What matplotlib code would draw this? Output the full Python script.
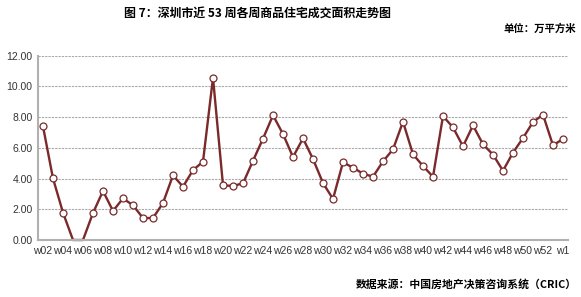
import matplotlib.pyplot as plt
import numpy as np

plt.rcParams['font.family'] = ['Liberation Sans', 'Noto Sans CJK SC', 'DejaVu Sans']

# weekly values, w02 .. w53 then w1 of the next year
weeks = ['w%02d' % i for i in range(2, 54)] + ['w1']
area = [7.40, 4.01, 1.78, 0.00, 0.00, 1.76, 3.19, 1.89, 2.71, 2.26,
        1.43, 1.43, 2.41, 4.21, 3.47, 4.55, 5.10, 10.57, 3.56, 3.52,
        3.69, 5.16, 6.60, 8.12, 6.90, 5.40, 6.62, 5.27, 3.71, 2.67,
        5.06, 4.71, 4.32, 4.12, 5.12, 5.90, 7.70, 5.58, 4.82, 4.12,
        8.07, 7.33, 6.10, 7.46, 6.23, 5.56, 4.51, 5.69, 6.64, 7.68,
        8.16, 6.16, 6.58]
yticks = [0, 2, 4, 6, 8, 10, 12]

fig = plt.figure(figsize=(5.81, 2.97), dpi=100)
ax = fig.add_axes([38 / 581, 1 - 240 / 297, 530 / 581, 184.3 / 297])

x = np.arange(len(weeks))
# markers sitting on the zero line are hidden behind the axis in the original
shown = [i for i, v in enumerate(area) if v > 0]
ax.plot(x, area, '-o', color='#7a2a2a', linewidth=1.7, markersize=5,
        markerfacecolor='white', markeredgecolor='#7a2a2a', markeredgewidth=0.9,
        markevery=shown, clip_on=False, zorder=3)

ax.set_xlim(-0.5, len(weeks) - 0.5)
ax.set_ylim(0, 12)
ax.set_yticks(yticks)
ax.set_yticklabels(['%.2f' % v for v in yticks], fontsize=7.5)
ax.set_xticks(x[::2])
ax.set_xticklabels(weeks[::2], fontsize=7.5)
ax.tick_params(axis='both', length=0, pad=4, colors='#333333')

ax.grid(axis='y', linestyle=(0, (2, 1)), color='#a8a8a8', linewidth=0.8)
ax.set_axisbelow(True)
for s in ['top', 'right']:
    ax.spines[s].set_visible(False)
for s in ['left', 'bottom']:
    ax.spines[s].set_color('#b0b0b0')
    ax.spines[s].set_linewidth(1.5)
ax.spines['bottom'].set_zorder(4)

fig.text(257 / 581, 1 - 13 / 297, '图 7：深圳市近 53 周各周商品住宅成交面积走势图',
         ha='center', va='center', fontsize=8.6, fontweight='bold',
         family=['Noto Sans CJK SC', 'DejaVu Sans'])
fig.text(576 / 581, 1 - 29 / 297, '单位：万平方米', ha='right', va='center',
         fontsize=7.5, fontweight='bold', family=['Noto Sans CJK SC', 'DejaVu Sans'])
fig.text(577 / 581, 1 - 284 / 297, '数据来源：中国房地产决策咨询系统（CRIC）',
         ha='right', va='center', fontsize=7.8, fontweight='bold',
         family=['Noto Sans CJK SC', 'DejaVu Sans'])

fig.savefig('out.png', dpi=100)
